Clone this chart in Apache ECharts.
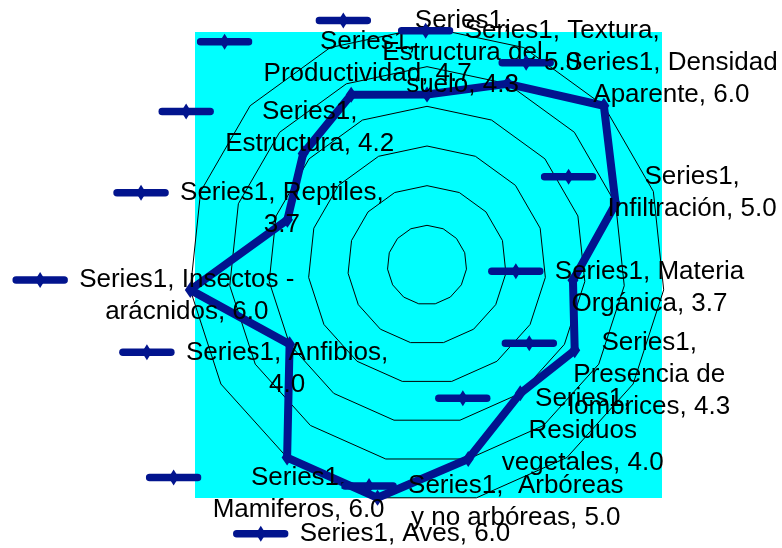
<!DOCTYPE html>
<html>
<head>
<meta charset="utf-8">
<title>Radar</title>
<script src="https://cdn.jsdelivr.net/npm/echarts@6.0.0/dist/echarts.min.js"></script>
<style>
  html, body { margin: 0; padding: 0; background: #fff; }
  #chart { width: 782px; height: 548px; }
</style>
</head>
<body>
<div id="chart"></div>
<script>
// data, clockwise from the top
var seriesName = 'Series1';
var categories = ['Estructura del suelo', 'Textura', 'Densidad Aparente', 'Infiltración', 'Materia Orgánica',
  'Presencia de lombrices', 'Residuos vegetales', ' Arbóreas y no arbóreas', 'Aves', 'Mamiferos',
  'Anfibios', 'Insectos - arácnidos', 'Reptiles', 'Estructura', 'Productividad'];
var values = [4.3, 5.0, 6.0, 5.0, 3.7, 4.3, 4.0, 5.0, 6.0, 6.0, 4.0, 6.0, 3.7, 4.2, 4.7];
var axisMax = 6;

// how many words go on each line of a data label, and where the label sits next to its point
var labelBreaks = [[1, 2, 2], [2, 1], [2, 2], [1, 2], [2, 2], [1, 2, 2], [1, 1, 2], [3, 4],
  [3], [1, 2], [2, 1], [3, 2], [2, 1], [1, 2], [1, 2]];
var labelOffsets = [[2, -42], [21, -37], [34, -27], [43, -11], [43, 7], [41, 25], [29, 37], [14, 43],
  [-6, 36], [-22, 36], [-36, 24], [-37, 6], [-39, -11], [-27, -26], [-17, -37]];

var navy = '#02148e';
var font = "'Liberation Sans', Arial, sans-serif";

// legend key drawn in front of each data label
var keySvg = 'data:image/svg+xml;charset=utf-8,' + encodeURIComponent(
  '<svg xmlns="http://www.w3.org/2000/svg" width="56" height="18">' +
  '<line x1="4" y1="9" x2="52" y2="9" stroke="' + navy + '" stroke-width="7.5" stroke-linecap="round"/>' +
  '<polygon points="28,1 33,9 28,17 23,9" fill="' + navy + '"/></svg>');

function labelText(i) {
  var words = (seriesName + ', ' + categories[i] + ', ' + values[i].toFixed(1)).split(' ');
  var lines = [], k = 0;
  labelBreaks[i].forEach(function (n) {
    lines.push(words.slice(k, k + n).join(' '));
    k += n;
  });
  return lines.map(function (ln, j) {
    return (j === 0 ? '{key|}{gap|}' : '{pad|}') + '{t|' + ln + '}';
  }).join('\n');
}
var labelTexts = categories.map(function (c, i) { return labelText(i); });

// echarts lays the indicators out counter-clockwise, so feed them reversed
var order = [0];
for (var k = categories.length - 1; k > 0; k--) order.push(k);

var chart = echarts.init(document.getElementById('chart'));
chart.setOption({
  animation: false,
  backgroundColor: '#fff',
  graphic: [{
    type: 'rect',
    z: -100,
    silent: true,
    shape: { x: 195, y: 32, width: 467, height: 466 },
    style: { fill: '#00ffff' }
  }],
  radar: {
    center: [427, 265],
    radius: 238,
    startAngle: 90,
    shape: 'polygon',
    splitNumber: 6,
    indicator: order.map(function (i) { return { name: categories[i], min: 0, max: axisMax }; }),
    axisName: { show: false },
    axisLine: { show: false },
    axisTick: { show: false },
    axisLabel: { show: false },
    splitLine: { lineStyle: { color: '#000', width: 1 } },
    splitArea: { show: false }
  },
  series: [{
    type: 'radar',
    name: seriesName,
    symbol: 'diamond',
    symbolSize: [11, 16],
    lineStyle: { color: navy, width: 8 },
    itemStyle: { color: navy },
    data: [{
      name: seriesName,
      value: order.map(function (i) { return values[i]; })
    }],
    label: {
      show: true,
      position: 'inside',
      color: '#000',
      fontFamily: font,
      fontSize: 26,
      lineHeight: 32,
      formatter: function (p) { return labelTexts[order[p.dimensionIndex]]; },
      rich: {
        key: { width: 56, height: 18, align: 'left', backgroundColor: { image: keySvg } },
        gap: { width: 11, align: 'left' },
        pad: { width: 67, align: 'left' },
        t: { fontFamily: font, fontSize: 26, lineHeight: 32, color: '#000' }
      }
    },
    labelLayout: function (p) {
      var i = labelTexts.indexOf(p.text);
      if (i < 0) return {};
      return { dx: labelOffsets[i][0], dy: labelOffsets[i][1] };
    }
  }]
});
</script>
</body>
</html>
